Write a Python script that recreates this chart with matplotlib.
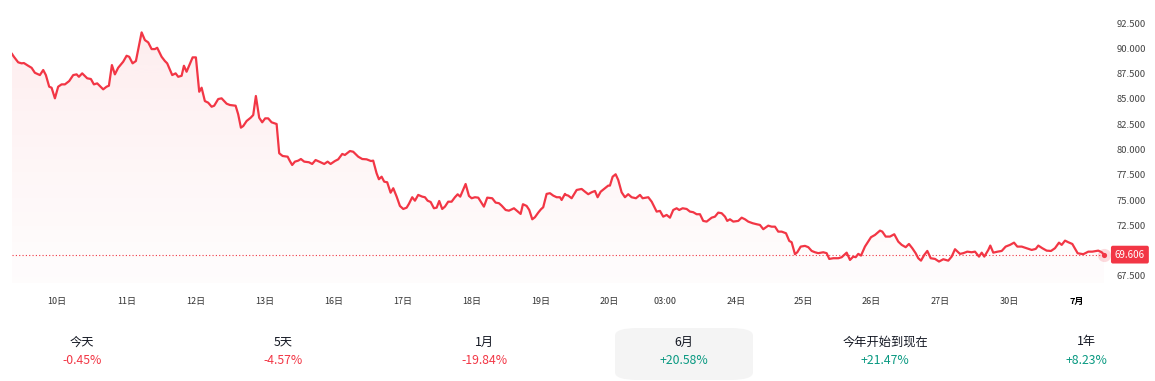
import numpy as np
import matplotlib
matplotlib.use("Agg")
import matplotlib.pyplot as plt
from matplotlib.patches import FancyBboxPatch

plt.rcParams['font.family'] = ['Noto Sans CJK SC', 'DejaVu Sans']

# position in trading sessions (10日 = 0) and price
t_pos = [
    -0.66, -0.632, -0.569, -0.519, -0.485, -0.422, -0.372, -0.324, -0.25, -0.201, -0.162, -0.113,
    -0.078, -0.029, 0.019, 0.069, 0.118, 0.181, 0.24, 0.29, 0.324, 0.372, 0.446, 0.5,
    0.544, 0.593, 0.681, 0.731, 0.765, 0.809, 0.853, 0.901, 0.975, 1.025, 1.063, 1.113,
    1.162, 1.246, 1.294, 1.343, 1.393, 1.441, 1.475, 1.54, 1.588, 1.622, 1.696, 1.746,
    1.784, 1.834, 1.868, 1.907, 1.996, 2.044, 2.093, 2.128, 2.176, 2.225, 2.275, 2.313,
    2.372, 2.422, 2.496, 2.544, 2.628, 2.666, 2.706, 2.74, 2.79, 2.849, 2.887, 2.926,
    2.975, 3.019, 3.063, 3.107, 3.157, 3.231, 3.269, 3.319, 3.393, 3.426, 3.46, 3.5,
    3.549, 3.588, 3.637, 3.706, 3.754, 3.804, 3.868, 3.931, 3.981, 4.025, 4.088, 4.137,
    4.196, 4.235, 4.309, 4.357, 4.431, 4.49, 4.554, 4.618, 4.651, 4.701, 4.735, 4.775,
    4.813, 4.857, 4.907, 4.946, 4.996, 5.044, 5.093, 5.143, 5.176, 5.225, 5.265, 5.313,
    5.372, 5.412, 5.451, 5.496, 5.544, 5.584, 5.622, 5.666, 5.706, 5.754, 5.804, 5.853,
    5.893, 5.931, 6.01, 6.059, 6.099, 6.147, 6.196, 6.279, 6.328, 6.401, 6.451, 6.5,
    6.54, 6.599, 6.647, 6.721, 6.769, 6.819, 6.853, 6.907, 6.946, 6.99, 7.029, 7.078,
    7.118, 7.151, 7.201, 7.25, 7.299, 7.349, 7.397, 7.422, 7.471, 7.485, 7.519, 7.569,
    7.643, 7.716, 7.765, 7.813, 7.863, 7.912, 7.951, 7.996, 8.059, 8.107, 8.132, 8.172,
    8.216, 8.254, 8.304, 8.353, 8.401, 8.451, 8.515, 8.574, 8.613, 8.696, 8.746, 8.819,
    8.868, 8.916, 8.966, 9.015, 9.063, 9.113, 9.151, 9.201, 9.26, 9.309, 9.357, 9.407,
    9.456, 9.504, 9.554, 9.628, 9.676, 9.725, 9.775, 9.824, 9.857, 9.897, 9.946, 10.019,
    10.069, 10.118, 10.166, 10.231, 10.29, 10.338, 10.387, 10.46, 10.51, 10.559, 10.607, 10.657,
    10.721, 10.769, 10.804, 10.853, 10.887, 10.937, 11.0, 11.049, 11.099, 11.147, 11.196, 11.269,
    11.319, 11.357, 11.416, 11.49, 11.54, 11.613, 11.662, 11.71, 11.746, 11.784, 11.824, 11.882,
    11.971, 12.029, 12.103, 12.137, 12.187, 12.25, 12.313, 12.372, 12.422, 12.481, 12.529, 12.578,
    12.628, 12.666, 12.706, 12.754, 12.799, 12.849, 12.912, 12.971, 13.034, 13.107, 13.157, 13.206,
    13.279, 13.328, 13.387, 13.451, 13.5, 13.559, 13.599, 13.637, 13.696, 13.725, 13.769, 13.834,
    13.893, 13.951, 14.015, 14.074, 14.122, 14.187, 14.26, 14.334, 14.393, 14.431, 14.49, 14.554,
    14.618, 14.676, 14.735, 14.775, 14.824, 14.872, 14.931, 15.01, 15.093, 15.166, 15.225, 15.313,
    15.363, 15.397,
]
price = [
    89.45, 89.17, 88.62, 88.52, 88.55, 88.28, 88.08, 87.59, 87.36, 87.86, 87.36, 86.21,
    86.11, 85.06, 86.21, 86.44, 86.44, 86.77, 87.36, 87.43, 87.19, 87.53, 87.04, 86.97,
    86.44, 86.54, 85.95, 86.21, 86.31, 88.35, 87.43, 88.08, 88.68, 89.27, 89.17, 88.52,
    88.75, 91.58, 90.82, 90.59, 89.93, 89.93, 90.06, 89.17, 88.75, 88.52, 87.36, 87.53,
    87.19, 87.29, 88.28, 87.69, 89.11, 89.11, 85.71, 86.11, 84.79, 84.63, 84.23, 84.33,
    84.99, 85.06, 84.53, 84.40, 84.33, 83.48, 82.16, 82.32, 82.82, 83.14, 83.41, 85.29,
    83.14, 82.69, 83.08, 83.08, 82.69, 82.52, 79.63, 79.36, 79.29, 78.86, 78.47, 78.80,
    78.90, 79.06, 78.80, 78.74, 78.57, 78.96, 78.77, 78.57, 78.80, 78.57, 78.86, 79.03,
    79.56, 79.46, 79.85, 79.78, 79.29, 79.06, 79.03, 78.86, 78.90, 77.65, 77.06, 77.31,
    76.82, 76.76, 75.73, 76.17, 75.34, 74.42, 74.12, 74.25, 74.62, 75.28, 74.94, 75.51,
    75.34, 75.28, 74.94, 74.81, 74.19, 74.25, 74.91, 74.12, 74.35, 74.84, 74.84, 75.28,
    75.57, 75.34, 76.59, 75.41, 75.18, 75.28, 75.24, 74.35, 75.24, 75.18, 74.75, 74.69,
    74.45, 74.02, 73.95, 74.19, 73.92, 73.63, 74.59, 74.42, 74.02, 73.10, 73.30, 73.76,
    74.09, 74.29, 75.61, 75.68, 75.44, 75.28, 75.28, 75.01, 75.61, 75.51, 75.44, 75.18,
    76.00, 76.10, 75.83, 75.58, 75.77, 75.90, 75.28, 75.83, 76.17, 76.43, 76.43, 77.31,
    77.55, 76.99, 75.77, 75.28, 75.58, 75.28, 75.18, 75.51, 75.18, 75.28, 74.84, 73.86,
    73.93, 73.36, 73.53, 73.26, 74.02, 74.19, 74.02, 74.19, 74.12, 73.86, 73.80, 73.60,
    73.60, 72.94, 72.87, 73.26, 73.36, 73.76, 73.70, 73.36, 72.94, 73.10, 72.87, 72.94,
    73.26, 73.10, 72.87, 72.71, 72.61, 72.54, 72.12, 72.47, 72.37, 72.37, 71.88, 71.88,
    71.72, 70.96, 70.83, 69.65, 69.84, 70.40, 70.47, 70.34, 69.97, 69.84, 69.75, 69.84,
    69.75, 69.18, 69.25, 69.25, 69.35, 69.80, 69.08, 69.41, 69.35, 69.68, 69.51, 70.40,
    71.33, 71.55, 71.98, 71.88, 71.39, 71.39, 71.62, 70.89, 70.57, 70.34, 70.66, 70.24,
    69.74, 69.25, 69.01, 69.58, 69.97, 69.25, 69.18, 68.92, 69.15, 69.01, 69.41, 70.14,
    69.68, 69.75, 69.90, 69.84, 69.90, 69.41, 69.80, 69.41, 70.07, 70.50, 69.80, 69.90,
    69.97, 70.40, 70.57, 70.79, 70.40, 70.40, 70.24, 70.07, 70.17, 70.50, 70.24, 70.00,
    69.97, 70.24, 70.79, 70.57, 70.99, 70.83, 70.66, 69.74, 69.65, 69.90, 69.90, 70.00,
    69.84, 69.606,
]

tick_pos = [0, 1.03, 2.04, 3.06, 4.07, 5.09, 6.10, 7.12, 8.12, 8.94, 9.99, 10.97, 11.97, 12.99, 14.01, 14.99]
tick_labels = ["10日", "11日", "12日", "13日", "16日", "17日", "18日", "19日",
               "20日", "03:00", "24日", "25日", "26日", "27日", "30日", "7月"]
y_ticks = [67.5, 70.0, 72.5, 75.0, 77.5, 80.0, 82.5, 85.0, 87.5, 90.0, 92.5]

period_labels = ["今天", "5天", "1月", "6月", "今年开始到现在", "1年"]
period_changes = [-0.45, -4.57, -19.84, 20.58, 21.47, 8.23]
selected_period = "6月"

RED = "#f23645"
GREEN = "#089981"

W, H = 1155, 381
fig = plt.figure(figsize=(W / 100, H / 100), dpi=100)
ax = fig.add_axes([12 / W, 1 - 283 / H, (1104 - 12) / W, (283 - 15) / H])

x = np.array(t_pos)
y = np.array(price)
ymin, ymax = 66.8, 93.3
xmin, xmax = x[0], x[-1]

# gradient fill under the line
poly = ax.fill_between(x, y, ymin, color="none", lw=0)
grad = np.linspace(0, 1, 256)
rgba = np.zeros((256, 1, 4))
rgba[:, 0, :3] = matplotlib.colors.to_rgb(RED)
rgba[:, 0, 3] = 0.015 + 0.075 * grad ** 1.2
im = ax.imshow(rgba, extent=[xmin, xmax, ymin, y.max()], origin="lower",
               aspect="auto", zorder=1)
im.set_clip_path(poly.get_paths()[0], transform=ax.transData)

ax.plot(x, y, color=RED, lw=1.6, zorder=3, solid_joinstyle="round")
ax.axhline(price[-1], color=RED, lw=0.8, ls=(0, (1, 2)), zorder=2)
ax.scatter([x[-1]], [y[-1]], s=90, color=RED, alpha=0.18, lw=0, zorder=4, clip_on=False)
ax.scatter([x[-1]], [y[-1]], s=14, color=RED, lw=0, zorder=5, clip_on=False)

ax.set_xlim(xmin, xmax)
ax.set_ylim(ymin, ymax)
for s in ax.spines.values():
    s.set_visible(False)

ax.set_xticks(tick_pos)
ax.set_xticklabels(tick_labels, fontsize=6.5, color="#333333")
ax.tick_params(axis="x", length=0, pad=10)
ax.get_xticklabels()[-1].set_fontweight("bold")
ax.get_xticklabels()[-1].set_color("#000000")

ax.yaxis.tick_right()
ax.set_yticks(y_ticks)
ax.set_yticklabels([f"{v:.3f}" for v in y_ticks], fontsize=6.8, color="#444444", ha="right")
ax.tick_params(axis="y", length=0, pad=30)

# last price tag, drawn over the axis labels like in the app
tag = ax.annotate(f"{price[-1]:.3f}", xy=(1, price[-1]), xycoords=("axes fraction", "data"),
                  xytext=(29.5, 0), textcoords="offset points", ha="right", va="center",
                  fontsize=7, color="white", zorder=10,
                  bbox=dict(boxstyle="round,pad=0.4,rounding_size=0.2", fc=RED, ec="none"))

# period performance strip
centers = [82, 283, 484, 684, 885, 1086]
for cx, lab, chg in zip(centers, period_labels, period_changes):
    if lab == selected_period:
        fig.patches.append(FancyBboxPatch(((cx - 69) / W, 1 - 380 / H), 138 / W, 52 / H,
                                          boxstyle="round,pad=0,rounding_size=0.02",
                                          transform=fig.transFigure, fc="#f4f4f4", ec="none"))
    fig.text(cx / W, 1 - 342 / H, lab, ha="center", va="center", fontsize=8.8, color="#131722")
    col = GREEN if chg > 0 else RED
    fig.text(cx / W, 1 - 361 / H, f"{chg:+.2f}%", ha="center", va="center", fontsize=8.8, color=col)

fig.savefig("out.png", dpi=100, facecolor="white")
